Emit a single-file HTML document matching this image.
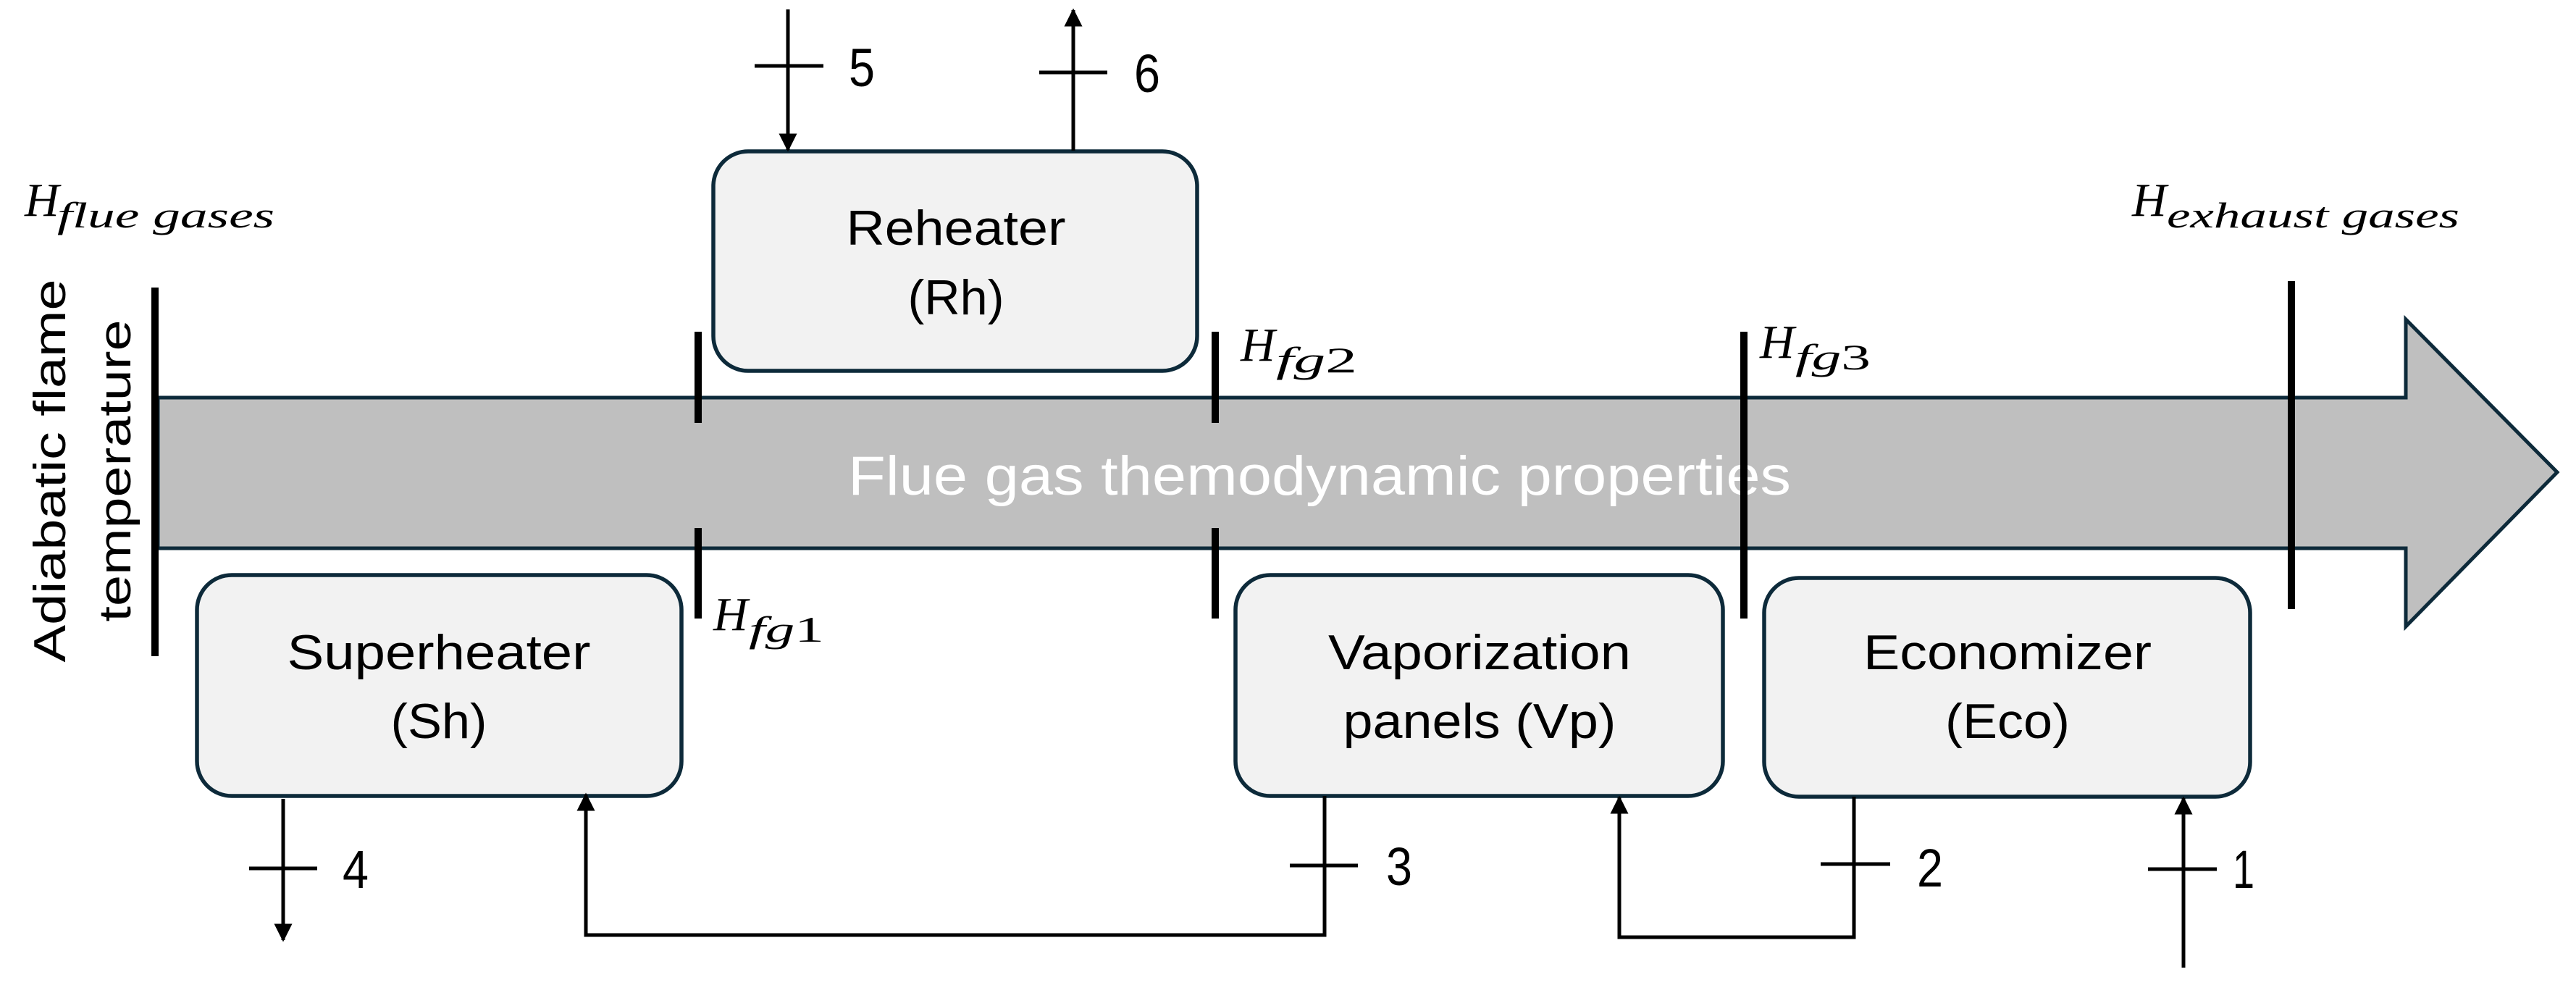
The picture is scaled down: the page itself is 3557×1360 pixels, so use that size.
<!DOCTYPE html>
<html><head><meta charset="utf-8"><style>html,body{margin:0;padding:0;background:#fff}svg{display:block}</style></head>
<body>
<svg width="3557" height="1360" viewBox="0 0 3557 1360" xmlns="http://www.w3.org/2000/svg">
<defs>
<marker id="ah" viewBox="0 0 10 10" refX="9" refY="5" markerWidth="5" markerHeight="6" orient="auto" markerUnits="strokeWidth"><path d="M0,0 L10,5 L0,10 z" fill="#000"/></marker>
</defs>
<g font-family="'Liberation Sans Narrow','Liberation Sans',sans-serif">
<polygon points="218,549 3322,549 3322,441 3531,652 3322,865 3322,757 218,757" fill="#bfbfbf" stroke="#0d2a3a" stroke-width="5"/>
<text x="1171" y="683" font-size="76" fill="#fff" textLength="1302" lengthAdjust="spacingAndGlyphs">Flue gas themodynamic properties</text>

<g fill="#f2f2f2" stroke="#0d2a3a" stroke-width="5.5">
<rect x="985" y="209" width="668" height="303" rx="48"/>
<rect x="272" y="794" width="669" height="305" rx="48"/>
<rect x="1706" y="794" width="673" height="305" rx="48"/>
<rect x="2436" y="798" width="671" height="302" rx="48"/>
</g>
<g font-size="68" fill="#000" text-anchor="middle">
<text x="1320" y="338" textLength="303" lengthAdjust="spacingAndGlyphs">Reheater</text>
<text x="1320" y="434" textLength="133" lengthAdjust="spacingAndGlyphs">(Rh)</text>
<text x="606" y="924" textLength="419" lengthAdjust="spacingAndGlyphs">Superheater</text>
<text x="606" y="1019" textLength="133" lengthAdjust="spacingAndGlyphs">(Sh)</text>
<text x="2043" y="924" textLength="418" lengthAdjust="spacingAndGlyphs">Vaporization</text>
<text x="2043" y="1019" textLength="377" lengthAdjust="spacingAndGlyphs">panels (Vp)</text>
<text x="2772" y="924" textLength="398" lengthAdjust="spacingAndGlyphs">Economizer</text>
<text x="2772" y="1019" textLength="172" lengthAdjust="spacingAndGlyphs">(Eco)</text>
</g>

<g stroke="#000" stroke-width="10">
<line x1="214" y1="397" x2="214" y2="906"/>
<line x1="964" y1="458" x2="964" y2="584"/>
<line x1="964" y1="729" x2="964" y2="854"/>
<line x1="1678" y1="458" x2="1678" y2="584"/>
<line x1="1678" y1="729" x2="1678" y2="854"/>
<line x1="2408" y1="458" x2="2408" y2="854"/>
<line x1="3164" y1="388" x2="3164" y2="841"/>
</g>

<g stroke="#000" stroke-width="5" fill="none">
<line x1="1088" y1="13" x2="1088" y2="207" marker-end="url(#ah)"/>
<line x1="1482" y1="208" x2="1482" y2="14" marker-end="url(#ah)"/>
<line x1="391" y1="1103" x2="391" y2="1298" marker-end="url(#ah)"/>
<polyline points="1829,1099 1829,1291 809,1291 809,1097" marker-end="url(#ah)"/>
<polyline points="2560,1100 2560,1294 2236,1294 2236,1101" marker-end="url(#ah)"/>
<line x1="3015" y1="1336" x2="3015" y2="1102" marker-end="url(#ah)"/>
<line x1="1042" y1="91" x2="1137" y2="91"/>
<line x1="1435" y1="100" x2="1529" y2="100"/>
<line x1="344" y1="1199" x2="438" y2="1199"/>
<line x1="1781" y1="1195" x2="1875" y2="1195"/>
<line x1="2514" y1="1193" x2="2610" y2="1193"/>
<line x1="2966" y1="1200" x2="3061" y2="1200"/>
</g>
<g font-size="74" fill="#000">
<text x="1172" y="119" textLength="36" lengthAdjust="spacingAndGlyphs">5</text>
<text x="1566" y="127" textLength="36" lengthAdjust="spacingAndGlyphs">6</text>
<text x="473" y="1226" textLength="36" lengthAdjust="spacingAndGlyphs">4</text>
<text x="1914" y="1222" textLength="36" lengthAdjust="spacingAndGlyphs">3</text>
<text x="2647" y="1224" textLength="36" lengthAdjust="spacingAndGlyphs">2</text>
<text x="3083" y="1226" textLength="30" lengthAdjust="spacingAndGlyphs">1</text>
</g>

<g font-family="'Liberation Sans',sans-serif" font-size="62" fill="#000" text-anchor="middle">
<text transform="translate(90,650) rotate(-90)" textLength="529" lengthAdjust="spacingAndGlyphs">Adiabatic flame</text>
<text transform="translate(180,650) rotate(-90)" textLength="417" lengthAdjust="spacingAndGlyphs">temperature</text>
</g>
</g>

<g font-family="'Liberation Serif',serif" font-style="italic" fill="#000">
<text x="34" y="298" font-size="66">H</text>
<text x="79" y="314" font-size="50" textLength="300" lengthAdjust="spacingAndGlyphs">flue gases</text>
<text x="2944" y="298" font-size="66">H</text>
<text x="2992" y="314" font-size="50" textLength="404" lengthAdjust="spacingAndGlyphs">exhaust gases</text>
<text x="985" y="870" font-size="66">H</text>
<text x="1034" y="886" font-size="50" textLength="104" lengthAdjust="spacingAndGlyphs">fg<tspan font-style="normal">1</tspan></text>
<text x="1713" y="498" font-size="66">H</text>
<text x="1762" y="514" font-size="50" textLength="112" lengthAdjust="spacingAndGlyphs">fg<tspan font-style="normal">2</tspan></text>
<text x="2430" y="494" font-size="66">H</text>
<text x="2479" y="510" font-size="50" textLength="104" lengthAdjust="spacingAndGlyphs">fg<tspan font-style="normal">3</tspan></text>
</g>
</svg>
</body></html>
